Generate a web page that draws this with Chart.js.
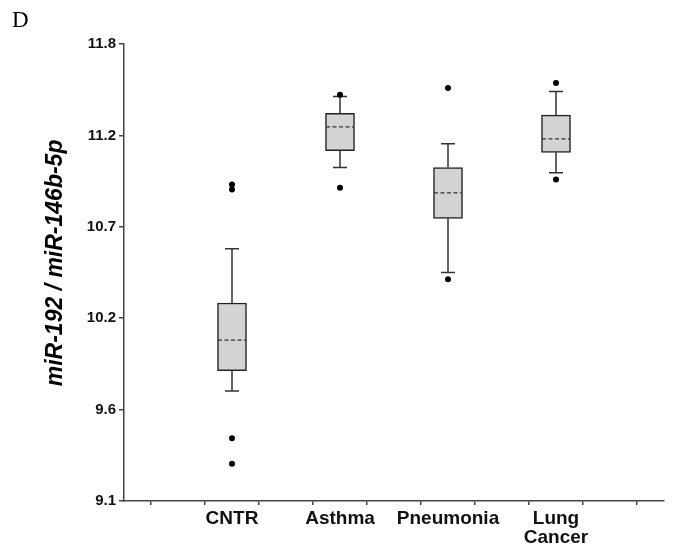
<!DOCTYPE html>
<html>
<head>
<meta charset="utf-8">
<script src="https://cdn.jsdelivr.net/npm/chart.js@4/dist/chart.umd.min.js"></script>
<style>
  body { margin: 0; background: #fff; }
  #wrap { position: relative; width: 679px; height: 554px; }
  #panel { position: absolute; left: 12px; top: 7px; font: 23px "Liberation Serif", "Times New Roman", serif; color: #000; }
</style>
</head>
<body>
<div id="wrap">
  <canvas id="myChartBox" width="679" height="554"></canvas>
  <div id="panel">D</div>
</div>
<script>
// groups and box statistics
const categories = ['CNTR', 'Asthma', 'Pneumonia', ['Lung', 'Cancer']];
const whiskerLow = [9.75, 11.07, 10.45, 11.04];
const q1 = [9.87, 11.17, 10.77, 11.16];
const median = [10.05, 11.31, 10.92, 11.24];
const q3 = [10.27, 11.39, 11.07, 11.38];
const whiskerHigh = [10.59, 11.49, 11.21, 11.52];
const outliers = [
    [9.32, 9.47, 10.94, 10.97],
    [10.95, 11.50],
    [10.41, 11.54],
    [11.00, 11.57]
];
const yTickValues = [9.1, 9.64, 10.18, 10.72, 11.26, 11.8];
const yTickLabels = ['9.1', '9.6', '10.2', '10.7', '11.2', '11.8'];

const slot = i => 2 * (i + 1);

const boxPoints = categories.map((c, i) => ({ x: slot(i), y: [q1[i], q3[i]] }));
const outlierPoints = [];
outliers.forEach((list, i) => list.forEach(v => outlierPoints.push({ x: slot(i), y: v })));

const boxLines = {
    id: 'boxLines',
    beforeDatasetsDraw(chart) {
        const { ctx, scales: { x, y } } = chart;
        ctx.save();
        ctx.strokeStyle = '#333';
        ctx.lineWidth = 1.5;
        categories.forEach((c, i) => {
            const px = x.getPixelForValue(slot(i));
            const hi = y.getPixelForValue(whiskerHigh[i]);
            const lo = y.getPixelForValue(whiskerLow[i]);
            ctx.beginPath();
            ctx.moveTo(px, y.getPixelForValue(q3[i]));
            ctx.lineTo(px, hi);
            ctx.moveTo(px - 7, hi);
            ctx.lineTo(px + 7, hi);
            ctx.moveTo(px, y.getPixelForValue(q1[i]));
            ctx.lineTo(px, lo);
            ctx.moveTo(px - 7, lo);
            ctx.lineTo(px + 7, lo);
            ctx.stroke();
        });
        ctx.restore();
    },
    afterDatasetsDraw(chart) {
        const { ctx, scales: { x, y } } = chart;
        ctx.save();
        ctx.strokeStyle = '#333';
        ctx.lineWidth = 1.3;
        ctx.setLineDash([4, 2.5]);
        categories.forEach((c, i) => {
            const px = x.getPixelForValue(slot(i));
            const py = y.getPixelForValue(median[i]);
            ctx.beginPath();
            ctx.moveTo(px - 14, py);
            ctx.lineTo(px + 14, py);
            ctx.stroke();
        });
        ctx.restore();
    }
};

const ctxBox = document.getElementById('myChartBox').getContext('2d');

const myChartBox = new Chart(ctxBox, {
    type: 'bar',
    data: {
        datasets: [{
            type: 'bar',
            data: boxPoints,
            backgroundColor: '#d3d3d3',
            borderColor: '#222',
            borderWidth: 1.5,
            borderSkipped: false,
            barThickness: 29,
            order: 2
        }, {
            type: 'scatter',
            data: outlierPoints,
            pointRadius: 3,
            pointBackgroundColor: '#000',
            pointBorderWidth: 0,
            order: 1
        }]
    },
    plugins: [boxLines],
    options: {
        responsive: false,
        animation: false,
        layout: { padding: { top: 44, right: 15, bottom: 0, left: 0 } },
        plugins: {
            legend: { display: false },
            tooltip: { enabled: false }
        },
        scales: {
            x: {
                type: 'linear',
                offset: false,
                min: 0,
                max: 10,
                afterBuildTicks: s => { s.ticks = [0, 1, 2, 3, 4, 5, 6, 7, 8, 9, 10].map(v => ({ value: v })); },
                afterFit: s => { s.height = 53; },
                ticks: {
                    autoSkip: false,
                    maxRotation: 0,
                    padding: 4,
                    color: '#111',
                    font: { family: 'Liberation Sans, Arial, sans-serif', size: 19, weight: 'bold', lineHeight: 1.0 },
                    callback: v => (v % 2 === 0 && v > 0 && v < 10) ? categories[v / 2 - 1] : ''
                },
                grid: { drawOnChartArea: false, drawTicks: true, tickLength: 4, color: '#444', lineWidth: 1.5 },
                border: { color: '#444', width: 1.5 }
            },
            y: {
                type: 'linear',
                min: 9.1,
                max: 11.8,
                afterBuildTicks: s => { s.ticks = yTickValues.map(v => ({ value: v })); },
                afterFit: s => { s.width = 124; },
                ticks: {
                    padding: 3,
                    color: '#111',
                    font: { family: 'Liberation Sans, Arial, sans-serif', size: 15, weight: 'bold' },
                    callback: (v, i) => yTickLabels[i]
                },
                grid: { drawOnChartArea: false, drawTicks: true, tickLength: 5, color: '#444', lineWidth: 1.5 },
                border: { color: '#444', width: 1.5 },
                title: {
                    display: true,
                    text: '   miR-192 / miR-146b-5p',
                    color: '#000',
                    padding: { top: 42, bottom: 0 },
                    font: { family: 'Liberation Sans, Arial, sans-serif', size: 23, weight: 'bold', style: 'italic' }
                }
            }
        }
    }
});
</script>
</body>
</html>
